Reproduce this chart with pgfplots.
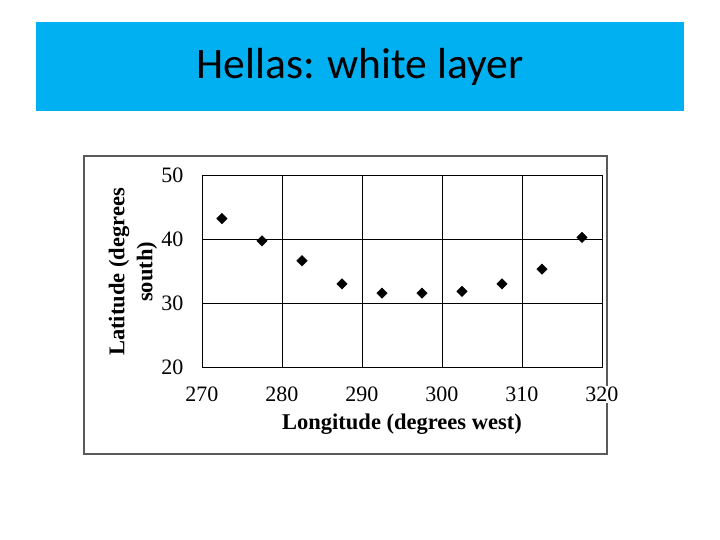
\documentclass[border=0pt]{standalone}
\usepackage{pgfplots}
\pgfplotsset{compat=1.18}
\usetikzlibrary{backgrounds}
\usepackage{fontspec}
\setmainfont{Liberation Serif}
\newfontfamily\titlefont{Carlito}
\definecolor{titleblue}{RGB}{0,176,240}
\definecolor{framegray}{RGB}{90,90,90}
\begin{document}
\begin{tikzpicture}[x=1pt,y=1pt]
\begin{axis}[
  name=ax,
  scale only axis, width=400pt, height=192pt,
  xmin=270, xmax=320, ymin=20, ymax=50,
  xtick={270,280,...,320}, ytick={20,30,40,50},
  grid=major, major grid style={black, line width=0.6pt},
  axis line style={black, line width=0.6pt},
  major tick length=0pt,
  /pgf/number format/assume math mode=true,
  tick label style={font=\fontsize{22}{24}\selectfont},
  xticklabel style={yshift=-19pt, fill=white, inner ysep=1pt},
  yticklabel style={xshift=-15pt},
  xlabel={\textbf{Longitude (degrees west)}},
  ylabel={\textbf{Latitude (degrees}\\\textbf{south)}},
  label style={font=\fontsize{22.5}{28}\selectfont},
  xlabel style={at={(axis description cs:0.5,-0.297)}, anchor=center},
  ylabel style={at={(axis description cs:-0.1725,0.495)}, anchor=center, align=center},
]
\addplot[only marks, mark=square*, mark size=3.7pt, mark options={rotate=45, fill=black, draw=black}]
coordinates {
(272.5,43.2) (277.5,39.7) (282.5,36.6) (287.5,33.0) (292.5,31.55)
(297.5,31.55) (302.5,31.8) (307.5,33.0) (312.5,35.3) (317.5,40.25)
};
\coordinate (O) at (rel axis cs:0,0);
\end{axis}
\pgfresetboundingbox
\begin{scope}[shift={(O)}, xshift=-202pt, yshift=-173pt]
\useasboundingbox (0,0) rectangle (720,540);
\fill[titleblue] (36,429) rectangle (684,518);
\node[font=\titlefont\fontsize{43.5}{48}\selectfont, text=black] at (360,473) {Hellas: white layer};
\end{scope}
\begin{scope}[on background layer]
\fill[white] ([shift={(-202pt,-173pt)}]O) rectangle ([shift={(518pt,367pt)}]O);
\draw[framegray, line width=1.2pt] ([shift={(-118pt,-87pt)}]O) rectangle ([shift={(405pt,211pt)}]O);
\end{scope}
\end{tikzpicture}
\end{document}
